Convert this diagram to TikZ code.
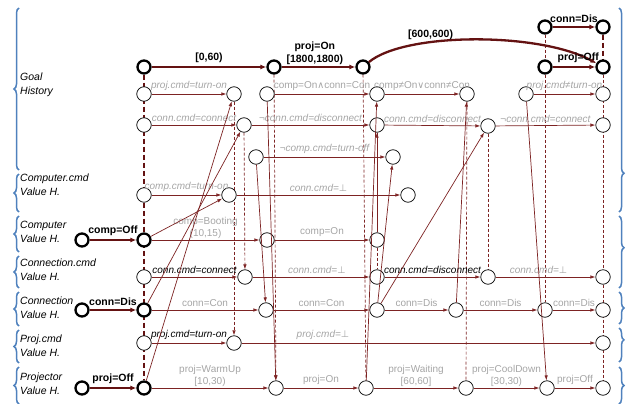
\documentclass[tikz,border=0pt]{standalone}
\usepackage{fontspec}
\setmainfont{Liberation Sans}
\newfontfamily\symfont{DejaVu Sans}
\usetikzlibrary{arrows.meta,decorations.pathreplacing,backgrounds}
\definecolor{cLink}{RGB}{125,35,35}
\definecolor{cGoal}{RGB}{100,18,18}
\definecolor{cGray}{RGB}{165,165,165}
\definecolor{cBrace}{RGB}{79,129,189}
\newcommand{\sy}[1]{{\symfont\fontsize{9.5}{12}\selectfont #1}}

\begin{document}
\begin{tikzpicture}[x=1pt,y=-1pt,
  st/.style={circle,draw,fill=white,line width=0.7pt,minimum size=14.5pt,inner sep=0pt},
  stx/.style={st,line width=2.3pt,minimum size=13pt},
  lnk/.style={cLink,line width=0.7pt,-{Latex[length=5pt,width=3.5pt]}},
  thk/.style={cGoal,line width=2.3pt,-{Latex[length=6pt,width=5pt]}},
  syn/.style={cLink,line width=0.7pt,dash pattern=on 3pt off 2pt},
  lg/.style={font=\fontsize{10}{12.5}\selectfont\itshape,text=cGray,above,inner sep=3pt},
  lk/.style={font=\fontsize{10}{12.5}\selectfont\itshape,text=black,above,inner sep=3pt},
  lv/.style={font=\fontsize{10}{12.5}\selectfont,text=cGray,above,inner sep=3pt,align=center},
  lb/.style={font=\fontsize{10.5}{13}\selectfont\bfseries,text=black,above,inner sep=3pt,align=center},
  row/.style={font=\fontsize{10.5}{14}\selectfont\itshape,anchor=west,align=left,inner sep=0pt},
  br/.style={cBrace,line width=1.5pt,decorate,decoration={brace,amplitude=5pt}}]
\useasboundingbox (0,0) rectangle (629,404);

% row titles
\node[row] (tGoal) at (20,85) {Goal\\History};
\node[row] (tCc) at (20,185) {Computer.cmd\\Value H.};
\node[row] (tCv) at (20,232) {Computer\\Value H.};
\node[row] (tKc) at (20,270) {Connection.cmd\\Value H.};
\node[row] (tKv) at (20,308) {Connection\\Value H.};
\node[row] (tPc) at (20,346) {Proj.cmd\\Value H.};
\node[row] (tPv) at (20,384) {Projector\\Value H.};

% braces
\draw[br] (19,170) -- (19,8);
\draw[br] (19,212) -- (19,174);
\draw[br] (19,252) -- (19,216);
\draw[br] (19,288) -- (19,256);
\draw[br] (19,326) -- (19,292);
\draw[br] (19,363) -- (19,330);
\draw[br] (19,404) -- (19,367);
\draw[br,decoration={aspect=0.81}] (619,8) -- (619,212);
\draw[br,decoration={aspect=0.44}] (619,216) -- (619,288);
\draw[br] (619,292) -- (619,324);
\draw[br,decoration={aspect=0.35}] (619,328) -- (619,362);
\draw[br] (619,367) -- (619,404);

% goal history
\node[stx] (gA) at (144,67) {};
\node[stx] (gB) at (274,67) {};
\node[stx] (gC) at (363,67) {};
\node[stx] (gD) at (545,67) {};
\node[stx] (gE) at (603,67) {};
\node[stx] (gF) at (545,27) {};
\node[stx] (gG) at (603,27) {};
\node[st] (g2a) at (144,94) {};
\node[st] (g2b) at (234,94) {};
\node[st] (g2c) at (267,94) {};
\node[st] (g2d) at (377,94) {};
\node[st] (g2e) at (467,94) {};
\node[st] (g2f) at (526,94) {};
\node[st] (g2g) at (603,94) {};
\node[st] (g3a) at (144,125) {};
\node[st] (g3b) at (244,125) {};
\node[st] (g3c) at (377,125) {};
\node[st] (g3d) at (488,126) {};
\node[st] (g3e) at (603,125) {};
\node[st] (g4a) at (256,157) {};
\node[st] (g4b) at (393,157) {};

% computer.cmd
\node[st] (cc0) at (144,195) {};
\node[st] (cc1) at (229,195) {};
\node[st] (cc2) at (408,195) {};
% computer
\node[stx] (cvI) at (82,240) {};
\node[stx] (cv0) at (144,240) {};
\node[st] (cv1) at (267,240) {};
\node[st] (cv2) at (377,240) {};
% connection.cmd
\node[st] (kc0) at (144,277) {};
\node[st] (kc1) at (245,277) {};
\node[st] (kc2) at (377,277) {};
\node[st] (kc3) at (488,277) {};
\node[st] (kc4) at (603,277) {};
% connection
\node[stx] (kvI) at (82,310) {};
\node[stx] (kv0) at (144,310) {};
\node[st] (kv1) at (266,310) {};
\node[st] (kv2) at (377,310) {};
\node[st] (kv3) at (456,310) {};
\node[st] (kv4) at (545,310) {};
\node[st] (kv5) at (603,310) {};
% proj.cmd
\node[st] (pc0) at (144,343) {};
\node[st] (pc1) at (234,343) {};
\node[st] (pc2) at (603,343) {};
% projector
\node[stx] (pvI) at (82,388) {};
\node[stx] (pv0) at (144,388) {};
\node[st] (pv1) at (276,388) {};
\node[st] (pv2) at (366,388) {};
\node[st] (pv3) at (466,388) {};
\node[st] (pv4) at (547,388) {};
\node[st] (pv5) at (603,388) {};

% synchronisation lines
\begin{pgfonlayer}{background}
\draw[cGoal,line width=2pt,dash pattern=on 5pt off 3pt] (gA) -- (pv0);
\draw[cGoal,line width=2pt,dash pattern=on 5pt off 3pt] (gG) -- (gE);
\draw[syn] (gE) -- (pv5);
\draw[syn] (gF) -- (kv4);
\draw[syn] (gC) -- (pv2);
\draw[syn,-{Latex[length=5pt,width=3.5pt]}] (gB) -- (pv1);
\draw[syn,-{Latex[length=5pt,width=3.5pt]}] (g2b) -- (pc1);
\draw[syn,-{Latex[length=5pt,width=3.5pt]}] (g3b) -- (kc1);
\draw[syn] (g3c) -- (kc2);
\draw[syn] (g2e) -- (pv3);
\draw[syn] (g3d) -- (kc3);
\end{pgfonlayer}

% goal edges
\draw[thk] (gA) -- node[lb]{[0,60)} (gB);
\draw[thk] (gB) -- node[lb,pos=0.45,inner sep=1pt]{proj=On\\{}[1800,1800)} (gC);
\draw[thk] (gC) .. controls (405,32) and (540,32) .. node[lb,pos=0.33,inner sep=1pt]{[600,600)} (gE);
\draw[thk] (gD) -- node[lb,pos=0.6]{proj=Off} (gE);
\draw[thk] (gF) -- node[lb]{conn=Dis} (gG);
\draw[lnk] (g2a) -- node[lg]{proj.cmd=turn-on} (g2b);
\draw[lnk] (g2c) -- node[lv]{comp=On\sy{∧}conn=Con} (g2d);
\draw[lnk] (g2d) -- node[lv]{comp≠On\sy{∨}conn≠Con} (g2e);
\draw[lnk] (g2f) -- node[lg]{proj.cmd≠turn-on} (g2g);
\draw[lnk] (g3a) -- node[lg]{conn.cmd=connect} (g3b);
\draw[lnk] (g3b) -- node[lg]{¬conn.cmd=disconnect} (g3c);
\draw[lnk] (g3c) -- node[lg]{conn.cmd=disconnect} (g3d);
\draw[lnk] (g3d) -- node[lg]{¬conn.cmd=connect} (g3e);
\draw[lnk] (g4a) -- node[lg]{¬comp.cmd=turn-off} (g4b);

% value edges
\draw[lnk] (cc0) -- node[lg]{comp.cmd=turn-on} (cc1);
\draw[lnk] (cc1) -- node[lg]{conn.cmd=\sy{⊥}} (cc2);
\draw[thk] (cvI) -- node[lb]{comp=Off} (cv0);
\draw[lnk] (cv0) -- node[lv,inner sep=1pt]{comp=Booting\\(10,15)} (cv1);
\draw[lnk] (cv1) -- node[lv]{comp=On} (cv2);
\draw[lnk] (kc0) -- node[lk]{conn.cmd=connect} (kc1);
\draw[lnk] (kc1) -- node[lg,pos=0.55]{conn.cmd=\sy{⊥}} (kc2);
\draw[lnk] (kc2) -- node[lk]{conn.cmd=disconnect} (kc3);
\draw[lnk] (kc3) -- node[lg,pos=0.43]{conn.cmd=\sy{⊥}} (kc4);
\draw[thk] (kvI) -- node[lb]{conn=Dis} (kv0);
\draw[lnk] (kv0) -- node[lv]{conn=Con} (kv1);
\draw[lnk] (kv1) -- node[lv]{conn=Con} (kv2);
\draw[lnk] (kv2) -- node[lv]{conn=Dis} (kv3);
\draw[lnk] (kv3) -- node[lv]{conn=Dis} (kv4);
\draw[lnk] (kv4) -- node[lv]{conn=Dis} (kv5);
\draw[lnk] (pc0) -- node[lk]{proj.cmd=turn-on} (pc1);
\draw[lnk] (pc1) -- node[lg,pos=0.23]{proj.cmd=\sy{⊥}} (pc2);
\draw[thk] (pvI) -- node[lb]{proj=Off} (pv0);
\draw[lnk] (pv0) -- node[lv,inner sep=1pt]{proj=WarmUp\\{}[10,30)} (pv1);
\draw[lnk] (pv1) -- node[lv]{proj=On} (pv2);
\draw[lnk] (pv2) -- node[lv,inner sep=1pt]{proj=Waiting\\{}[60,60]} (pv3);
\draw[lnk] (pv3) -- node[lv,inner sep=1pt]{proj=CoolDown\\{}[30,30)} (pv4);
\draw[lnk] (pv4) -- node[lv]{proj=Off} (pv5);

% justification links
\draw[lnk] (cv0) -- (cc1);
\draw[lnk] (kv0) -- (g3b);
\draw[lnk] (pv0) -- (g2b);
\draw[lnk] (g4a) -- (kv1);
\draw[lnk] (g2c) -- (pv1);
\draw[lnk] (pv2) -- (g2d);
\draw[lnk] (cv2) -- (g3c);
\draw[lnk] (kv2) -- (g4b);
\draw[lnk] (kv2) -- (g3d);
\draw[lnk] (kv3) -- (g2e);
\draw[lnk] (g2f) -- (pv4);
\end{tikzpicture}
\end{document}
